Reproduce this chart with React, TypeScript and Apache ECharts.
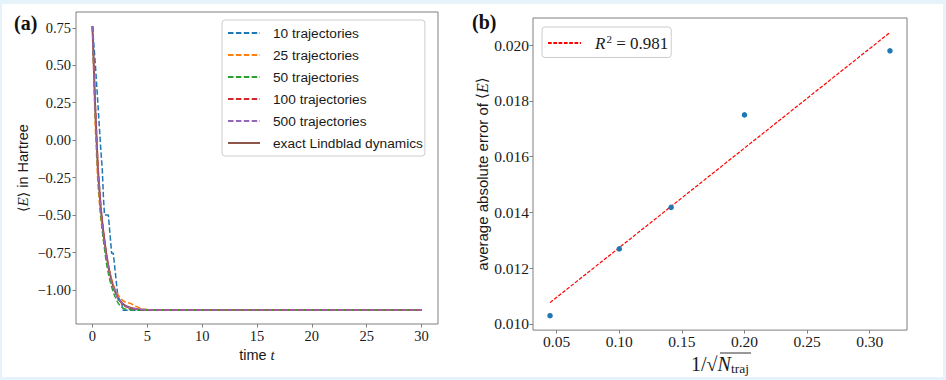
import React, { useEffect, useRef } from "react";
import * as echarts from "echarts";

// ---------- data: panel (a) ----------
const times = [0, 0.25, 0.5, 0.75, 1, 1.25, 1.5, 1.75, 2, 2.25, 2.5, 2.75, 3, 3.5, 4, 4.5, 5, 6, 7, 8, 10, 15, 20, 25, 30];
const eExact = [0.76, 0.22, -0.2, -0.45, -0.62, -0.755, -0.86, -0.94, -1.0, -1.04, -1.07, -1.09, -1.105, -1.12, -1.127, -1.13, -1.132, -1.133, -1.133, -1.133, -1.133, -1.133, -1.133, -1.133, -1.133];
const e500 = [0.76, 0.2, -0.21, -0.46, -0.63, -0.76, -0.865, -0.945, -1.0, -1.045, -1.072, -1.09, -1.106, -1.119, -1.126, -1.13, -1.132, -1.133, -1.133, -1.133, -1.133, -1.133, -1.133, -1.133, -1.133];
const e100 = [0.76, 0.25, -0.17, -0.43, -0.61, -0.75, -0.86, -0.94, -1.0, -1.045, -1.075, -1.095, -1.11, -1.122, -1.128, -1.131, -1.133, -1.133, -1.133, -1.133, -1.133, -1.133, -1.133, -1.133, -1.133];
const e50 = [0.76, 0.19, -0.23, -0.49, -0.67, -0.81, -0.91, -0.98, -1.035, -1.075, -1.105, -1.12, -1.128, -1.132, -1.133, -1.133, -1.133, -1.133, -1.133, -1.133, -1.133, -1.133, -1.133, -1.133, -1.133];
const e25 = [0.76, 0.1, -0.3, -0.52, -0.66, -0.77, -0.86, -0.93, -0.985, -1.02, -1.05, -1.07, -1.08, -1.09, -1.11, -1.125, -1.131, -1.133, -1.133, -1.133, -1.133, -1.133, -1.133, -1.133, -1.133];
const t10 = [0, 0.25, 0.5, 0.75, 0.9, 1.0, 1.1, 1.45, 1.75, 1.9, 2.35, 2.6, 2.8, 30];
const e10 = [0.76, 0.52, 0.24, -0.05, -0.2, -0.38, -0.5, -0.5, -0.755, -0.755, -1.067, -1.067, -1.135, -1.135];
const seriesNamesA = ["10 trajectories", "25 trajectories", "50 trajectories", "100 trajectories", "500 trajectories", "exact Lindblad dynamics"];
const ticksAX = [0, 5, 10, 15, 20, 25, 30];
const ticksAY = [-1.0, -0.75, -0.5, -0.25, 0, 0.25, 0.5, 0.75];

// ---------- data: panel (b) ----------
const invSqrtN = [0.0447, 0.1, 0.1414, 0.2, 0.3162];
const avgErr = [0.01029, 0.01269, 0.01418, 0.0175, 0.0198];
const fitX = [0.0447, 0.3162];
const fitY = [0.01076, 0.02046];
const ticksBX = [0.05, 0.1, 0.15, 0.2, 0.25, 0.3];
const ticksBY = [0.01, 0.012, 0.014, 0.016, 0.018, 0.02];

const C = {
  blue: "#1f77b4",
  orange: "#ff7f0e",
  green: "#2ca02c",
  red: "#d62728",
  purple: "#9467bd",
  brown: "#8c564b",
};
const SERIF = "Liberation Serif";
const SANS = "Liberation Sans";
const TXT = "#1a1a1a";
const SPINE = "#7f7f7f";
const DASH = [5.5, 2.4];

const zip = (xs: number[], ys: number[]) => xs.map((x, i) => [x, ys[i]]);
const minus = (s: string) => s.replace("-", "\u2212");

export default function App() {
  const ref = useRef<HTMLDivElement>(null);
  useEffect(() => {
    if (!ref.current) return;
    const chart = echarts.init(ref.current, null, { renderer: "svg" });
    const axisCommon = (fontSize: number, ticks: number[], fmt: (v: number) => string, margin: number) => ({
      type: "value" as const,
      splitLine: { show: false },
      axisLine: { show: false, onZero: false },
      axisTick: { show: true, inside: false, length: 3.5, lineStyle: { color: SPINE, width: 1 }, customValues: ticks },
      axisLabel: {
        customValues: ticks,
        formatter: fmt,
        color: TXT,
        fontFamily: SERIF,
        fontSize,
        margin,
        showMinLabel: true,
        showMaxLabel: true,
      },
    });
    const dashedLine = (name: string, color: string, data: number[][]) => ({
      name,
      type: "line" as const,
      xAxisIndex: 0,
      yAxisIndex: 0,
      data,
      symbol: "none",
      lineStyle: { color, width: 1.5, type: DASH },
      itemStyle: { color },
      z: 3,
    });
    const option: any = {
      animation: false,
      backgroundColor: "transparent",
      textStyle: { fontFamily: SERIF, color: TXT },
      grid: [
        { left: 76, top: 12, width: 362, height: 312, show: true, borderColor: SPINE, borderWidth: 1, backgroundColor: "transparent" },
        { left: 533, top: 18, width: 374, height: 314, show: true, borderColor: SPINE, borderWidth: 1, backgroundColor: "transparent" },
      ],
      xAxis: [
        {
          ...axisCommon(14.5, ticksAX, (v: number) => String(v), 4),
          gridIndex: 0,
          min: -1.5,
          max: 31.5,
          name: "time {i|t}",
          nameLocation: "middle",
          nameGap: 21,
          nameTextStyle: {
            fontFamily: SANS, fontSize: 14.5, color: TXT,
            rich: { i: { fontFamily: SERIF, fontStyle: "italic", fontSize: 15, color: TXT } },
          },
        },
        {
          ...axisCommon(15.5, ticksBX, (v: number) => v.toFixed(2), 3),
          gridIndex: 1,
          min: 0.0311,
          max: 0.3298,
          name: "1/\u221A{i|N}{s|traj}",
          nameLocation: "middle",
          nameGap: 14,
          nameTextStyle: {
            fontFamily: SERIF, fontSize: 20, color: TXT,
            rich: {
              i: { fontFamily: SERIF, fontStyle: "italic", fontSize: 20, color: TXT },
              s: { fontFamily: SERIF, fontSize: 13.5, color: TXT, padding: [8, 0, 0, 0] },
            },
          },
        },
      ],
      yAxis: [
        {
          ...axisCommon(14.5, ticksAY, (v: number) => minus(v.toFixed(2)), 5),
          gridIndex: 0,
          min: -1.2266,
          max: 0.8553,
          name: "{m|\u27E8}{i|E}{m|\u27E9} in Hartree",
          nameLocation: "middle",
          nameRotate: 90,
          nameGap: 46,
          nameTextStyle: {
            fontFamily: SANS, fontSize: 14.5, color: TXT,
            rich: {
              i: { fontFamily: SERIF, fontStyle: "italic", fontSize: 15, color: TXT },
              m: { fontFamily: "DejaVu Serif", fontSize: 14, color: TXT },
            },
          },
        },
        {
          ...axisCommon(15.5, ticksBY, (v: number) => v.toFixed(3), 4),
          gridIndex: 1,
          min: 0.009774,
          max: 0.020979,
          name: "average absolute error of {m|\u27E8}{i|E}{m|\u27E9}",
          nameLocation: "middle",
          nameRotate: 90,
          nameGap: 39,
          nameTextStyle: {
            fontFamily: SANS, fontSize: 15, color: TXT,
            rich: {
              i: { fontFamily: SERIF, fontStyle: "italic", fontSize: 16, color: TXT },
              m: { fontFamily: "DejaVu Serif", fontSize: 15, color: TXT },
            },
          },
        },
      ],
      legend: [
        {
          data: seriesNamesA,
          orient: "vertical",
          left: 222,
          top: 20,
          itemWidth: 32,
          itemHeight: 14,
          itemGap: 8,
          padding: [6, 2, 6, 5],
          backgroundColor: "#ffffff",
          borderColor: "#cccccc",
          borderWidth: 1,
          borderRadius: 3,
          selectedMode: false,
          itemStyle: { opacity: 0 },
          textStyle: { fontFamily: SANS, fontSize: 13.7, color: TXT, padding: [0, 0, 0, 8] },
        },
        {
          data: ["fit"],
          orient: "vertical",
          left: 542,
          top: 27,
          itemWidth: 33,
          itemHeight: 14,
          padding: [6, 3, 6, 5],
          backgroundColor: "#ffffff",
          borderColor: "#cccccc",
          borderWidth: 1,
          borderRadius: 3,
          selectedMode: false,
          itemStyle: { opacity: 0 },
          formatter: () => "{i|R}{s|2} = 0.981",
          textStyle: {
            fontFamily: SERIF, fontSize: 17, color: TXT, padding: [0, 0, 0, 9],
            rich: {
              i: { fontFamily: SERIF, fontStyle: "italic", fontSize: 17, color: TXT },
              s: { fontFamily: SERIF, fontSize: 11, color: TXT, padding: [0, 0, 9, 1] },
            },
          },
        },
      ],
      graphic: [
        { type: "text", left: 14, top: 13, style: { text: "(a)", font: `bold 20px "Liberation Serif"`, fill: "#111" } },
        { type: "text", left: 472, top: 12, style: { text: "(b)", font: `bold 20px "Liberation Serif"`, fill: "#111" } },
        { type: "line", shape: { x1: 720, y1: 353, x2: 751, y2: 353 }, style: { stroke: TXT, lineWidth: 0.9 } },
      ],
      series: [
        {
          name: seriesNamesA[5],
          type: "line",
          xAxisIndex: 0,
          yAxisIndex: 0,
          data: zip(times, eExact),
          symbol: "none",
          lineStyle: { color: C.brown, width: 2 },
          itemStyle: { color: C.brown },
          z: 2,
        },
        dashedLine(seriesNamesA[0], C.blue, zip(t10, e10)),
        dashedLine(seriesNamesA[1], C.orange, zip(times, e25)),
        dashedLine(seriesNamesA[2], C.green, zip(times, e50)),
        dashedLine(seriesNamesA[3], C.red, zip(times, e100)),
        dashedLine(seriesNamesA[4], C.purple, zip(times, e500)),
        {
          name: "fit",
          type: "line",
          xAxisIndex: 1,
          yAxisIndex: 1,
          data: zip(fitX, fitY),
          symbol: "none",
          lineStyle: { color: "#ff0000", width: 1.2, type: [3.7, 1.6] },
          itemStyle: { color: "#ff0000" },
          z: 2,
        },
        {
          name: "errors",
          type: "scatter",
          xAxisIndex: 1,
          yAxisIndex: 1,
          data: zip(invSqrtN, avgErr),
          symbol: "circle",
          symbolSize: 5.5,
          itemStyle: { color: C.blue, opacity: 1 },
          z: 3,
        },
      ],
    };
    chart.setOption(option);
    return () => chart.dispose();
  }, []);

  return (
    <div style={{ position: "fixed", left: 0, top: 0, width: 946, height: 380, background: "#e6f3fb" }}>
      <div style={{ position: "absolute", left: 2, top: 4, right: 3, bottom: 3, background: "#ffffff" }} />
      <div ref={ref} style={{ position: "absolute", left: 0, top: 0, width: 946, height: 380 }} />
    </div>
  );
}
